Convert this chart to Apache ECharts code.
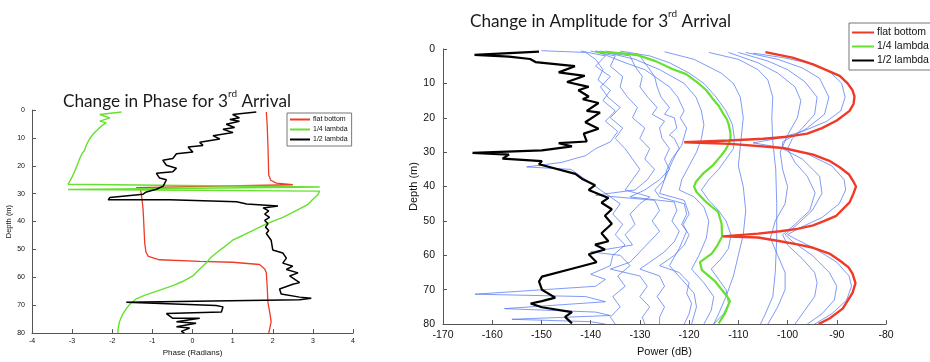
<!DOCTYPE html>
<html>
<head>
<meta charset="utf-8">
<script src="https://cdn.jsdelivr.net/npm/echarts@6/dist/echarts.min.js"></script>
<style>
  html, body { margin: 0; padding: 0; background: #fff; }
  #chart { width: 930px; height: 362px; }
</style>
</head>
<body>
<div id="chart"></div>
<script>
// ---- Phase panel: [phase (rad), depth (m)] ----
const phaseFlatBottom = [[1.84,0.7],[1.86,5],[1.88,12.7],[1.89,18],[1.9,23.3],[1.95,25.2],[2.09,26.2],[2.5,26.8],[-1.4,27.8],[-1.3,28.6],[-1.28,29.7],[-1.25,33],[-1.23,36],[-1.21,42],[-1.19,47.8],[-1.16,51],[-1.1,52.5],[-0.82,53.7],[0.18,54.3],[1.0,54.6],[1.67,55.4],[1.8,57],[1.84,58.4],[1.86,63],[1.88,68.9],[1.93,73],[1.96,75.9],[1.93,78],[1.9,80]];
const phaseQuarterLambda = [[-1.77,0.7],[-2.31,1.6],[-2.06,2.8],[-2.31,4.0],[-2.15,4.6],[-2.27,5.7],[-2.4,7.5],[-2.48,8.7],[-2.57,10.5],[-2.65,12.7],[-2.69,14.5],[-2.75,15.5],[-2.81,17.4],[-2.88,20],[-2.94,22.1],[-3.0,24],[-3.06,25.6],[-3.1,26.6],[3.17,27.6],[-3.1,28.5],[3.17,29.1],[3.12,30.5],[3.0,32],[2.88,33.8],[2.7,35.2],[2.5,36.7],[2.25,38.5],[1.84,40.8],[1.51,43.2],[1.25,45],[1.0,46.7],[0.8,49],[0.59,51.3],[0.45,53],[0.34,54.9],[0.18,57],[0.01,59.5],[-0.25,61.5],[-0.49,63],[-0.98,65.4],[-1.2,66.5],[-1.4,67.7],[-1.55,69.5],[-1.65,71.2],[-1.75,73.5],[-1.82,75.9],[-1.85,78],[-1.86,80]];
const phaseHalfLambda = [[1.59,0.7],[1.0,1.6],[1.17,2.8],[0.93,3.4],[1.17,4.0],[0.84,5.1],[1.05,6.3],[0.76,6.9],[1.01,8.1],[0.51,9.2],[0.68,10.4],[0.18,11.6],[0.26,12.7],[-0.11,13.3],[0.01,15.1],[-0.4,15.7],[-0.49,17.4],[-0.74,18],[-0.65,19.8],[-0.4,20.9],[-0.49,22.1],[-0.9,22.7],[-0.82,24.4],[-0.65,25],[-0.73,27.3],[-0.9,28.4],[-1.15,29.4],[-1.23,30.2],[-2.06,31.4],[-2.1,32.2],[-0.57,32.2],[1.1,32.9],[1.35,33.7],[2.13,34.4],[1.76,35.1],[1.9,36.2],[1.8,37.3],[1.92,38.5],[1.8,39.6],[1.88,40.8],[1.82,42],[1.9,43.2],[1.84,44.3],[1.96,46.7],[2.0,50.2],[2.25,51.3],[2.34,53.1],[2.25,54.9],[2.5,56],[2.34,57.2],[2.63,58.4],[2.42,59.5],[2.67,61.9],[2.5,62.5],[2.17,64.2],[2.21,66],[2.67,67.1],[2.96,67.5],[2.67,68],[-1.65,68.9],[0.59,70.1],[0.76,70.6],[0.72,72.4],[-0.65,73],[-0.49,74.7],[0.18,74.7],[-0.4,75.9],[0.09,76.5],[-0.4,77.7],[-0.07,78.2],[-0.28,79.4],[-0.2,80]];

// ---- Amplitude panel: [power (dB), depth (m)] ----
const powerFlatBottom = [[-104.5,0.9],[-99,2.5],[-94.8,4.5],[-91.5,6.5],[-89.4,7.8],[-87.8,10],[-86.8,12],[-86.4,13.8],[-86.6,16],[-87.4,18],[-90,20.8],[-93,23],[-96,24.6],[-100,25.5],[-104.9,26.1],[-112,26.6],[-121,27.1],[-111.6,27.6],[-100.9,28.8],[-94.8,30.7],[-91.5,32.5],[-89.4,34.4],[-87.5,36.5],[-86.6,38.6],[-86.1,40],[-86.6,42],[-87.4,44.6],[-90.1,48.5],[-92.5,50],[-94.8,51.3],[-98,52.3],[-101.5,53],[-106,53.7],[-113.2,54.5],[-106,54.8],[-101.5,55.9],[-98,56.8],[-94.8,57.8],[-91.5,59.5],[-89.4,61.5],[-87.6,63.5],[-86.8,65.3],[-86.2,68.1],[-86.8,70.9],[-88.8,75.5],[-91.4,78.3],[-93.7,80]];
const powerQuarterLambda = [[-138.8,0.9],[-134,1.2],[-130.6,1.7],[-126.7,3.6],[-123.3,5.9],[-120.6,7.3],[-118,10.1],[-116.5,12],[-115.3,14.3],[-114,16.5],[-113.2,18.5],[-112.3,20.5],[-111.9,22.3],[-111.6,24.5],[-111.6,26.5],[-112.6,29.3],[-113.5,31],[-115.3,34],[-117,36],[-118.6,38.6],[-119,40],[-118.5,41.6],[-116.4,44.7],[-114.1,47.4],[-113.4,50.8],[-113.3,54.5],[-114.2,57],[-115.4,59.5],[-117.8,62],[-117.4,64.3],[-114.7,67.6],[-112.3,71.9],[-111.7,73.3],[-112.7,76.9],[-114,79.8]];
const powerHalfLambda = [[-150.5,0.75],[-163.6,1.7],[-156.6,2.2],[-152.3,2.9],[-151.2,3.8],[-143.2,5],[-146.5,6.8],[-141.2,7.8],[-144.8,9.6],[-140.4,11],[-142.5,12],[-140.4,13.8],[-141.6,14.6],[-138.4,15.7],[-140.8,18],[-138.1,18.5],[-141.1,21.3],[-138.4,23.2],[-141.4,24.6],[-140.8,26.9],[-146.5,27.4],[-143.8,28.3],[-149.9,29.5],[-164,30.2],[-156.6,30.7],[-157.9,31.9],[-149.9,32.6],[-150.5,33.5],[-143.1,36.3],[-141.8,37.7],[-139.1,39.6],[-140.4,41],[-136.4,43.3],[-137.8,44.7],[-135.7,46.6],[-137.1,48.5],[-135.7,50.8],[-137.8,53.6],[-136.4,55.9],[-139.1,56.9],[-137.1,58.3],[-140.4,59.7],[-138.8,62],[-143.8,63.9],[-149.9,66.2],[-150.5,67.6],[-149.9,70],[-147.2,72.3],[-149.9,73.3],[-152.2,74],[-149.9,75.1],[-143.8,76.5],[-145.2,77.9],[-143.8,79.8]];

// intermediate roughness cases (thin blue traces)
const powerCase1 = [[-107,1.2],[-101,2.5],[-96,4],[-91.5,6.5],[-89,10],[-88.3,14],[-89.2,18],[-92,21],[-97,24],[-102,26],[-107,27.3],[-102,28.5],[-96,30.5],[-91,34],[-88.5,38],[-88.2,41],[-89.5,45],[-93,49],[-97.5,52],[-100,54],[-98,55.5],[-94.5,58],[-90,62],[-87.5,66],[-87,69],[-88,73],[-91,77],[-94.5,80]];
const powerCase2 = [[-108.5,1],[-102,3],[-97,5.5],[-93.5,8.5],[-91.6,14],[-92.5,19],[-96,23],[-98.5,25],[-101,27],[-101,29],[-97,32],[-93.5,37],[-93,42],[-95,47],[-98,51],[-100.5,54],[-99,56],[-95,60],[-91.5,65],[-90,69],[-90.5,73],[-93,77],[-96,80]];
const powerCase3 = [[-110,1],[-104,3.5],[-100,6],[-96.5,9.5],[-94,14],[-94.5,19],[-97,23],[-99,26],[-100,29],[-98.5,33],[-96,37],[-94.4,41.8],[-95.5,47],[-98.5,51],[-101,54],[-100,57],[-97,61],[-94.5,65],[-94,68],[-94.5,72],[-96.5,76],[-98.5,80]];
const powerCase4 = [[-112,1],[-106,4],[-102,7],[-98.5,11],[-97.3,15],[-98,20],[-100,25],[-101.5,30],[-101,35],[-100,40],[-100.5,45],[-102.5,50],[-103.5,55],[-102,60],[-100.5,65],[-100.5,70],[-102,75],[-104,80]];
const powerCase5 = [[-116,1],[-110,3],[-106,6],[-104,9],[-103,14],[-103.2,20],[-103,27],[-102.4,35],[-102.2,45],[-102.2,55],[-102.5,65],[-103,72],[-104.5,77],[-105.5,80]];
const powerCase6 = [[-125,0.8],[-119,3],[-113.5,7],[-111,10],[-109.6,14],[-109,20],[-109.5,27],[-110,34],[-109,40],[-108.5,47],[-109,54],[-110,60],[-111,66],[-112.5,72],[-114,77],[-115,80]];
const powerCase7 = [[-134,0.6],[-128,2],[-124,4],[-120,7],[-117,10],[-114.5,14],[-112.5,18],[-111.2,22],[-110.8,26],[-111,29],[-112.5,32],[-114,35],[-116,38],[-117.5,41],[-116,44],[-114,47],[-112.5,50],[-111.5,54],[-112,58],[-113.5,61],[-115.5,64],[-114,67],[-112.5,70],[-112,74],[-113,77],[-115,80]];
const powerCase8 = [[-138,0.6],[-131,3],[-126,6],[-121,10],[-118.6,14],[-117.5,18],[-117,22],[-117.5,26],[-118.5,30],[-120,34],[-121.5,38],[-122,41],[-119,43],[-117,46],[-116,50],[-116.5,55],[-118,60],[-119.5,64],[-117,68],[-115,72],[-115.5,76],[-117,80]];
const powerCase9 = [[-139,0.6],[-133,4],[-129,6],[-127,8],[-124,11],[-122.3,14],[-121,18],[-121.8,20],[-120.5,23],[-121.5,28],[-122.5,30],[-123.5,33],[-125,38],[-126,42],[-121,44],[-120,48],[-121.2,51],[-120.5,53],[-122,58],[-124,63],[-121.5,67],[-119,71],[-118.5,75],[-119.5,80]];
const powerCase10 = [[-137,0.6],[-130,2],[-128.5,5],[-127,8],[-126.5,11],[-125.7,14],[-124,17],[-125,19],[-123,20],[-122.5,23],[-124,25],[-123,26],[-122,29],[-123.5,32],[-124.5,35],[-125,38],[-127,41],[-126,43],[-121,45],[-120.5,48],[-121.5,51],[-120,54],[-121,57],[-123,60],[-126,63],[-122,65],[-120,68],[-120.5,71],[-119.5,74],[-120,77],[-121,80]];
const powerCase11 = [[-139,0.6],[-132,2],[-131,5],[-129.5,8],[-130,11],[-128.4,14],[-126.5,17],[-127.5,19],[-125,21],[-126,23],[-125.5,26],[-124,29],[-125,32],[-124,35],[-126,38],[-129,41],[-132,43],[-123,44.5],[-122.5,47],[-123.5,50],[-122,53],[-123,56],[-125,59],[-128,62],[-130,64],[-126,66],[-125,69],[-126.5,72],[-125,75],[-126,78],[-126,80]];
const powerCase12 = [[-140,0.6],[-135,2],[-136,5],[-133.5,8],[-134,11],[-132.5,14],[-130.5,17],[-131.5,20],[-129,23],[-130,26],[-128,29],[-129,32],[-127,35],[-128.5,38],[-131,41],[-139,42.5],[-127,44],[-126,47],[-127.5,50],[-126,53],[-128,56],[-130,59],[-132,62],[-136,64],[-130,66],[-128.5,69],[-130,72],[-128,75],[-129.5,78],[-129,80]];
const powerCase13 = [[-142,0.6],[-137,2],[-139,5],[-136,8],[-138,11],[-136.5,14],[-134,17],[-136,20],[-133.5,23],[-135,26],[-133,29],[-131.5,32],[-130,35],[-131.5,38],[-133,41],[-128,43],[-130,45],[-132,48],[-131,51],[-133,54],[-131.5,57],[-140,59],[-134,60],[-132,63],[-134.5,66],[-133,69],[-135.5,72],[-134,75],[-136,78],[-135,80]];
const powerCase14 = [[-150,0.5],[-141,1],[-139,3],[-137.5,6],[-138.5,9],[-136,12],[-137.5,15],[-135,18],[-137,21],[-134.5,24],[-136,27],[-139,29],[-141,31],[-146,33],[-153,34.3],[-144,35],[-142,37],[-140,39],[-138,41],[-136,43],[-134,45],[-135.5,48],[-133.5,51],[-135,54],[-133,57],[-135.5,60],[-136,63],[-140,65.5],[-137,67],[-139,69],[-163.5,71.3],[-141,72],[-137,73.5],[-157.5,75.5],[-139,76.5],[-136,77.5],[-156,78.6],[-140,79.3],[-137,80]];
const intermediateCases = [powerCase1, powerCase2, powerCase3, powerCase4, powerCase5, powerCase6, powerCase7, powerCase8, powerCase9, powerCase10, powerCase11, powerCase12, powerCase13, powerCase14];

// axis ranges and tick steps
const phaseTicks = { min: -4, max: 4, step: 1 };
const powerTicks = { min: -170, max: -80, step: 10 };
const depthTicks = { min: 0, max: 80, step: 10 };
const seriesNames = ['flat bottom', '1/4 lambda', '1/2 lambda'];

const RED = '#f03a28', GREEN = '#66e02e', BLACK = '#000000', BLUE = '#4d74f2';
const AX = '#555555';
const SANS = 'Liberation Sans, Arial, sans-serif';
const TITLE_FONT = 'Lato, Open Sans, sans-serif';

function valueAxis(gridIndex, range, fontSize, extra) {
  return Object.assign({
    type: 'value', gridIndex,
    min: range.min, max: range.max, interval: range.step,
    splitLine: { show: false },
    axisLine: { show: true, onZero: false, lineStyle: { color: AX, width: 1 } },
    axisTick: { show: true, inside: true, length: 4, lineStyle: { color: AX } },
    axisLabel: { color: '#111', fontSize, fontFamily: SANS },
    nameTextStyle: { color: '#111', fontSize: fontSize + 1, fontFamily: SANS }
  }, extra);
}

function line(name, data, xi, color, width, z) {
  return {
    name, type: 'line', data, xAxisIndex: xi, yAxisIndex: xi,
    symbol: 'none', showSymbol: false, smooth: false, animation: false,
    lineStyle: { color, width }, itemStyle: { color }, z
  };
}

const series = [
  line(seriesNames[0], phaseFlatBottom, 0, RED, 1.3, 3),
  line(seriesNames[1], phaseQuarterLambda, 0, GREEN, 1.4, 3),
  line(seriesNames[2], phaseHalfLambda, 0, BLACK, 1.5, 4)
];
intermediateCases.forEach(function (d, i) {
  const s = line('case ' + (i + 1), d, 1, BLUE, 0.8, 2);
  s.lineStyle.opacity = 0.9;
  series.push(s);
});
series.push(line(seriesNames[2], powerHalfLambda, 1, BLACK, 2.2, 4));
series.push(line(seriesNames[1], powerQuarterLambda, 1, GREEN, 2.2, 4));
series.push(line(seriesNames[0], powerFlatBottom, 1, RED, 2.4, 5));

function legend(left, top, fontSize, itemWidth, gap, pad) {
  return {
    data: seriesNames, orient: 'vertical', left, top,
    icon: 'rect', itemWidth, itemHeight: 2, itemGap: gap,
    padding: pad, borderColor: '#777', borderWidth: 1, borderRadius: 0,
    backgroundColor: '#fff', selectedMode: false,
    textStyle: { fontSize, fontFamily: SANS, color: '#111', padding: [0, 0, 0, -2] }
  };
}

function titleText(label, x, y, size, supSize) {
  return {
    text: '{a|Change in ' + label + ' for 3}{s|rd}{a| Arrival}',
    left: x, top: y, padding: 0,
    textStyle: {
      fontWeight: 'normal',
      rich: {
        a: { fontSize: size, fontFamily: TITLE_FONT, fontWeight: 'normal', color: '#1a1a1a', lineHeight: size + 4, verticalAlign: 'bottom' },
        s: { fontSize: supSize, fontFamily: TITLE_FONT, fontWeight: 'normal', color: '#1a1a1a', lineHeight: size + 4, verticalAlign: 'top' }
      }
    }
  };
}

const chart = echarts.init(document.getElementById('chart'), null, { renderer: 'canvas' });
chart.setOption({
  backgroundColor: '#ffffff',
  animation: false,
  title: [titleText('Phase', 63, 89, 17.2, 10), titleText('Amplitude', 470, 9, 17.2, 10)],
  legend: [legend(287, 113, 7, 20, 3, [3, 4, 3, 3]), legend(849, 23, 10.5, 22, 3, [4, 6, 4, 3])],
  grid: [
    { left: 32, top: 110, width: 321, height: 228, containLabel: false },
    { left: 443, top: 49, width: 443, height: 285, containLabel: false }
  ],
  xAxis: [
    valueAxis(0, phaseTicks, 7, { name: 'Phase (Radians)', nameLocation: 'middle', nameGap: 14, axisLabel: { color: '#111', fontSize: 7, fontFamily: SANS, margin: 4 } }),
    valueAxis(1, powerTicks, 10.5, { name: 'Power (dB)', nameLocation: 'middle', nameGap: 20, nameTextStyle: { color: '#111', fontSize: 11, fontFamily: SANS }, axisLabel: { color: '#111', fontSize: 10.5, fontFamily: SANS, margin: 6 } })
  ],
  yAxis: [
    valueAxis(0, depthTicks, 7, { inverse: true, name: 'Depth (m)', nameLocation: 'middle', nameGap: 17, nameRotate: 90, nameTextStyle: { color: '#111', fontSize: 7.5, fontFamily: SANS }, axisLabel: { color: '#111', fontSize: 7, fontFamily: SANS, margin: 7 } }),
    valueAxis(1, depthTicks, 10.5, { inverse: true, name: 'Depth (m)', nameLocation: 'middle', nameGap: 22, nameRotate: 90, nameTextStyle: { color: '#111', fontSize: 11, fontFamily: SANS }, axisLabel: { color: '#111', fontSize: 10.5, fontFamily: SANS, margin: 8 } })
  ],
  series
});
</script>
</body>
</html>
